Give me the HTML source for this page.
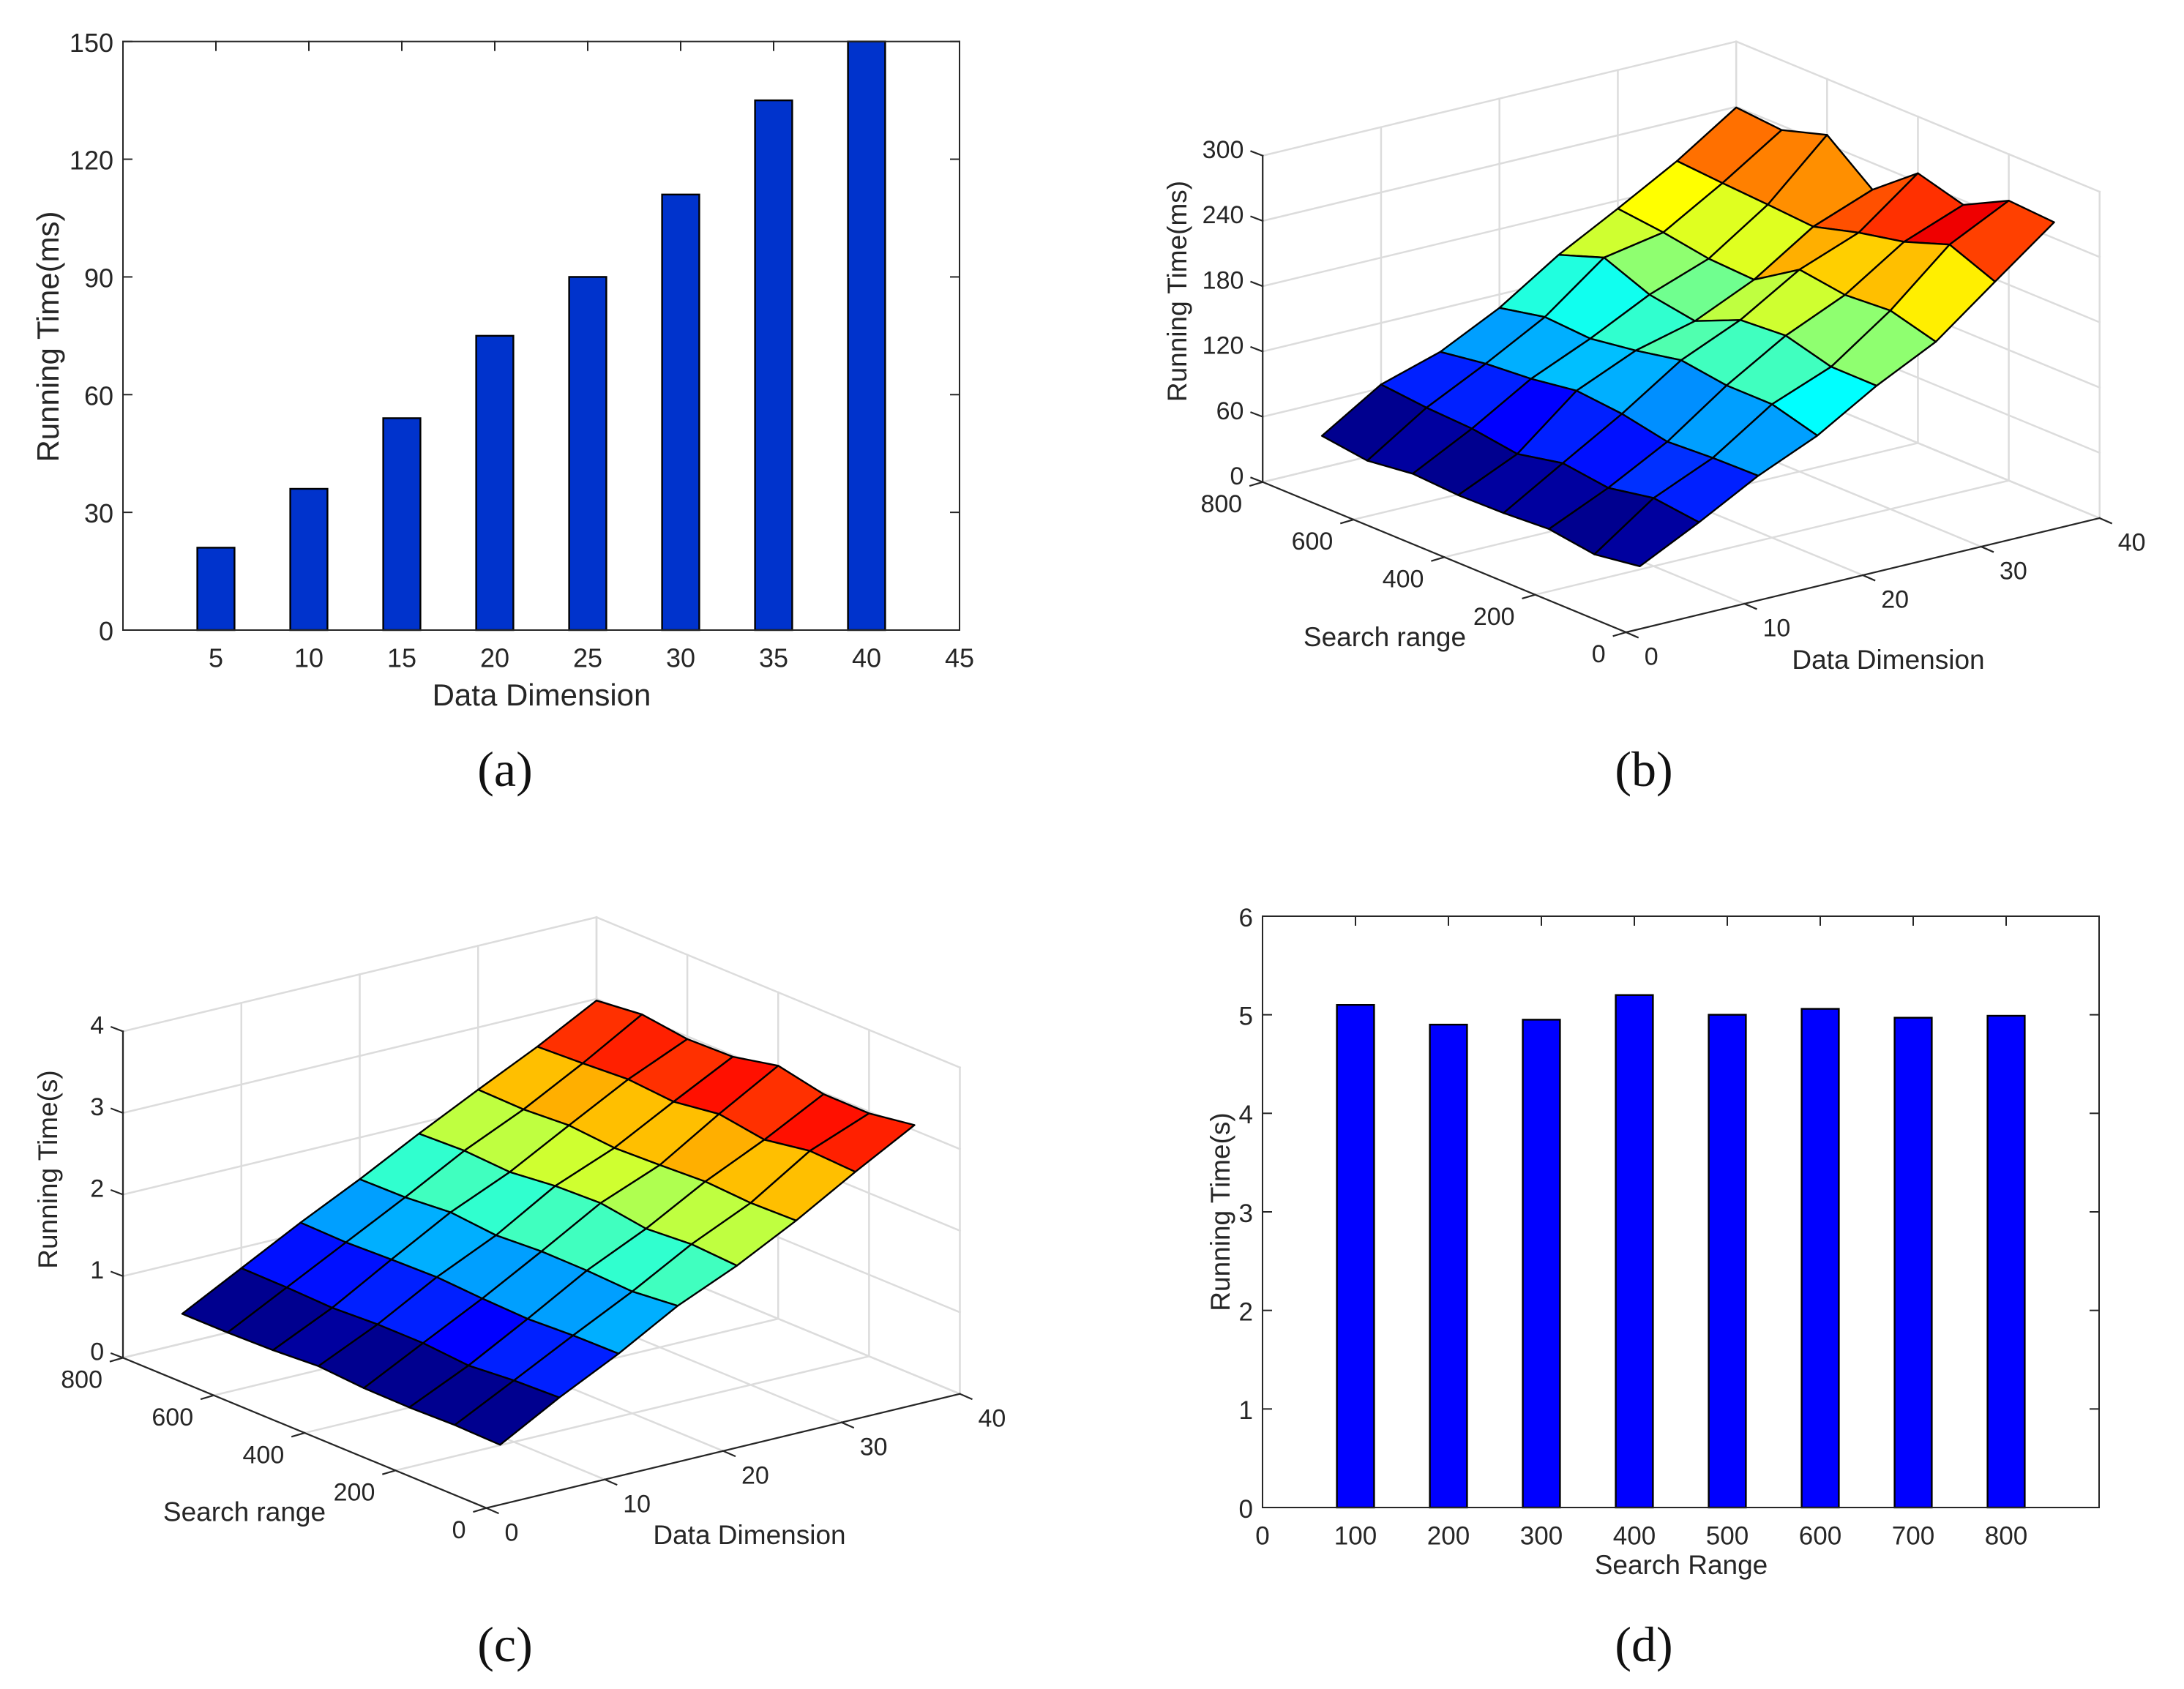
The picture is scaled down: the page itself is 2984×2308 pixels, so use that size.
<!DOCTYPE html>
<html lang="en">
<head>
<meta charset="utf-8">
<title>Running time charts</title>
<style>
html,body{margin:0;padding:0;background:#fff;}
svg{display:block;}
text{font-family:"Liberation Sans",sans-serif;fill:#262626;}
.caption{font-family:"Liberation Serif",serif;font-size:68px;fill:#111;text-anchor:middle;}
</style>
</head>
<body>
<svg xmlns="http://www.w3.org/2000/svg" width="2984" height="2308" viewBox="0 0 2984 2308">
  <rect x="0" y="0" width="2984" height="2308" fill="#fff"/>

  <g id="panel-a">
    <text x="740" y="964" font-size="42" text-anchor="middle">Data Dimension</text>
    <text x="80" y="460" font-size="42" text-anchor="middle" transform="rotate(-90 80 460)">Running Time(ms)</text>
  </g>
  <text class="caption" x="690" y="1074">(a)</text>

  <g id="panel-b">
    <text x="1892" y="883" font-size="37" text-anchor="middle">Search range</text>
    <text x="2580" y="914" font-size="37" text-anchor="middle">Data Dimension</text>
    <text x="1621" y="398" font-size="37" text-anchor="middle" transform="rotate(-90 1621 398)">Running Time(ms)</text>
  </g>
  <text class="caption" x="2246" y="1074">(b)</text>

  <g id="panel-c">
    <text x="334" y="2078.5" font-size="37" text-anchor="middle">Search range</text>
    <text x="1024" y="2110" font-size="37" text-anchor="middle">Data Dimension</text>
    <text x="78" y="1598" font-size="37" text-anchor="middle" transform="rotate(-90 78 1598)">Running Time(s)</text>
  </g>
  <text class="caption" x="690" y="2270">(c)</text>

  <g id="panel-d">
    <text x="2297" y="2151" font-size="37" text-anchor="middle">Search Range</text>
    <text x="1680" y="1656" font-size="37" text-anchor="middle" transform="rotate(-90 1680 1656)">Running Time(s)</text>
  </g>
  <text class="caption" x="2246" y="2270">(d)</text>
</svg>

<script>
// ---- Panel (a) data ----
const aCategories = [5, 10, 15, 20, 25, 30, 35, 40];
const aValues = [21, 36, 54, 75, 90, 111, 135, 150];
const aXTicks = [5, 10, 15, 20, 25, 30, 35, 40, 45];
const aYTicks = [0, 30, 60, 90, 120, 150];

// ---- Panel (d) data ----
const dCategories = [100, 200, 300, 400, 500, 600, 700, 800];
const dValues = [5.1, 4.9, 4.95, 5.2, 5.0, 5.06, 4.97, 4.99];
const dXTicks = [0, 100, 200, 300, 400, 500, 600, 700, 800];
const dYTicks = [0, 1, 2, 3, 4, 5, 6];

// ---- Surface grid (shared by panels b and c) ----
const dimensions = [5, 10, 15, 20, 25, 30, 35, 40];
const searchRanges = [100, 200, 300, 400, 500, 600, 700, 800];
const surfaceXTicks = [0, 10, 20, 30, 40];
const surfaceYTicks = [0, 200, 400, 600, 800];

// ---- Panel (b) data: one row per dimension, one column per search range ----
const bZTicks = [0, 60, 120, 180, 240, 300];
const bDim5 = [30.3, 24, 30, 27.5, 26.6, 29.1, 23.8, 29.3];
const bDim10 = [57.6, 62.6, 54.7, 60.2, 51.4, 57.4, 59.4, 63.4];
const bDim15 = [87.3, 86.4, 84, 92.4, 96.4, 90.1, 86.7, 80.3];
const bDim20 = [111.1, 122.6, 122.6, 128.6, 120.2, 113.9, 116.5, 107.6];
const bDim25 = [143.8, 143.9, 155.3, 152.4, 134.2, 141.2, 158, 143.3];
const bDim30 = [171.1, 182.5, 179.6, 185.6, 159.1, 161.1, 168, 172.6];
const bDim35 = [213.2, 230, 215.3, 206.5, 194.7, 197.7, 200.2, 203.3];
const bDim40 = [254.7, 257.3, 236.2, 248, 215.6, 248.7, 235.9, 239.4];
const bSurface = [bDim5, bDim10, bDim15, bDim20, bDim25, bDim30, bDim35, bDim40];

// ---- Panel (c) data ----
const cZTicks = [0, 1, 2, 3, 4];
const cDim5 = [0.370, 0.382, 0.368, 0.374, 0.413, 0.379, 0.365, 0.364];
const cDim10 = [0.774, 0.753, 0.706, 0.751, 0.751, 0.723, 0.742, 0.748];
const cDim15 = [1.137, 1.130, 1.103, 1.122, 1.154, 1.140, 1.120, 1.132];
const cDim20 = [1.548, 1.494, 1.520, 1.525, 1.492, 1.544, 1.497, 1.489];
const cDim25 = [1.866, 1.898, 1.858, 1.942, 1.922, 1.862, 1.894, 1.873];
const cDim30 = [2.243, 2.229, 2.261, 2.234, 2.213, 2.259, 2.225, 2.237];
const cDim35 = [2.666, 2.692, 2.599, 2.684, 2.604, 2.649, 2.615, 2.588];
const cDim40 = [3.064, 2.977, 2.983, 3.101, 2.981, 2.967, 3.039, 2.979];
const cSurface = [cDim5, cDim10, cDim15, cDim20, cDim25, cDim30, cDim35, cDim40];

const SVG_NS = 'http://www.w3.org/2000/svg';
const AXIS_COLOR = '#262626';
const GRID_COLOR = '#dcdcdc';

function make(tag, parent, attrs, before) {
  const node = document.createElementNS(SVG_NS, tag);
  for (const key in attrs) node.setAttribute(key, attrs[key]);
  if (before) parent.insertBefore(node, before);
  else parent.appendChild(node);
  return node;
}

function drawLine(parent, x1, y1, x2, y2, color, width, name) {
  const line = make('line', parent, { x1: x1, y1: y1, x2: x2, y2: y2, stroke: color, 'stroke-width': width, 'stroke-linecap': 'square' });
  
  
  return line;
}

function drawLabel(parent, x, y, content, size, anchor, name) {
  const label = make('text', parent, { x: x, y: y + size * 0.35, 'font-size': size, 'text-anchor': anchor });
  label.textContent = content;
  
  
  return label;
}

function drawBarChart(panel, box, xMax, yMax, categories, values, xTicks, yTicks, color, fontSize) {
  const first = panel.firstElementChild;
  const layer = make('g', panel, {}, first);
  
  
  const sx = function (v) { return box.left + (box.right - box.left) * v / xMax; };
  const sy = function (v) { return box.bottom - (box.bottom - box.top) * v / yMax; };
  const tick = 12;

  xTicks.forEach(function (t) {
    drawLine(layer, sx(t), box.bottom, sx(t), box.bottom - tick, AXIS_COLOR, 2, 'x-tick-bottom');
    drawLine(layer, sx(t), box.top, sx(t), box.top + tick, AXIS_COLOR, 2, 'x-tick-top');
    drawLabel(layer, sx(t), box.bottom + 38, String(t), fontSize, 'middle', 'x-tick-label');
  });
  yTicks.forEach(function (t) {
    drawLine(layer, box.left, sy(t), box.left + tick, sy(t), AXIS_COLOR, 2, 'y-tick-left');
    drawLine(layer, box.right, sy(t), box.right - tick, sy(t), AXIS_COLOR, 2, 'y-tick-right');
    drawLabel(layer, box.left - 13, sy(t) + 1.5, String(t), fontSize, 'end', 'y-tick-label');
  });

  const barWidth = (sx(categories[1]) - sx(categories[0])) * 0.4;
  categories.forEach(function (c, i) {
    const top = sy(values[i]);
    const bar = make('rect', layer, { x: sx(c) - barWidth / 2, y: top, width: barWidth, height: box.bottom - top, fill: color, stroke: '#000', 'stroke-width': 2.4 });
    
    
  });

  const frame = make('rect', layer, { x: box.left, y: box.top, width: box.right - box.left, height: box.bottom - box.top, fill: 'none', stroke: AXIS_COLOR, 'stroke-width': 2 });
  
  
}

function jetColor(value, low, high) {
  let index = Math.floor((value - low) / (high - low) * 64);
  index = Math.max(0, Math.min(63, index));
  const t = (index + 1) / 64;
  const channel = function (centre) {
    const c = Math.max(0, Math.min(1, 1.5 - Math.abs(4 * t - centre)));
    return Math.round(c * 255);
  };
  return 'rgb(' + channel(3) + ',' + channel(2) + ',' + channel(1) + ')';
}

function drawSurfaceChart(panel, origin, zHeight, zMax, surface, zTicks) {
  const first = panel.firstElementChild;
  const layer = make('g', panel, {}, first);
  
  
  const xMax = 40, yMax = 800;
  const project = function (x, y, z) {
    return {
      px: origin.x + 647 * x / xMax - 496.5 * y / yMax,
      py: origin.y - 156 * x / xMax - 205.3 * y / yMax - zHeight * z / zMax
    };
  };
  const seg = function (a, b, color, width, name) {
    drawLine(layer, a.px, a.py, b.px, b.py, color, width, name);
  };

  // back-wall and floor grid
  surfaceXTicks.forEach(function (t) {
    seg(project(t, 0, 0), project(t, yMax, 0), GRID_COLOR, 2.5, 'floor-gridline');
    seg(project(t, yMax, 0), project(t, yMax, zMax), GRID_COLOR, 2.5, 'back-wall-gridline');
  });
  surfaceYTicks.forEach(function (t) {
    seg(project(0, t, 0), project(xMax, t, 0), GRID_COLOR, 2.5, 'floor-gridline');
    seg(project(xMax, t, 0), project(xMax, t, zMax), GRID_COLOR, 2.5, 'side-wall-gridline');
  });
  zTicks.forEach(function (t) {
    seg(project(0, yMax, t), project(xMax, yMax, t), GRID_COLOR, 2.5, 'back-wall-gridline');
    seg(project(xMax, yMax, t), project(xMax, 0, t), GRID_COLOR, 2.5, 'side-wall-gridline');
  });

  // axis lines
  seg(project(0, 0, 0), project(xMax, 0, 0), AXIS_COLOR, 2.2, 'data-dimension-axis');
  seg(project(0, 0, 0), project(0, yMax, 0), AXIS_COLOR, 2.2, 'search-range-axis');
  seg(project(0, yMax, 0), project(0, yMax, zMax), AXIS_COLOR, 2.2, 'running-time-axis');

  // ticks and tick labels
  surfaceXTicks.forEach(function (t) {
    const p = project(t, 0, 0);
    seg(p, { px: p.px + 16, py: p.py + 7 }, AXIS_COLOR, 2.2, 'x-tick');
    drawLabel(layer, p.px + 25, p.py + 32.7, String(t), 34, 'start', 'x-tick-label');
  });
  surfaceYTicks.forEach(function (t) {
    const p = project(0, t, 0);
    seg(p, { px: p.px - 17, py: p.py + 5 }, AXIS_COLOR, 2.2, 'y-tick');
    drawLabel(layer, p.px - 28, p.py + 29.3, String(t), 34, 'end', 'y-tick-label');
  });
  zTicks.forEach(function (t) {
    const p = project(0, yMax, t);
    seg(p, { px: p.px - 15.7, py: p.py - 6 }, AXIS_COLOR, 2.2, 'z-tick');
    drawLabel(layer, p.px - 25.8, p.py - 8.6, String(t), 34, 'end', 'z-tick-label');
  });

  // surface faces, far to near; each face coloured from its lowest-index corner
  const all = surface.reduce(function (acc, row) { return acc.concat(row); }, []);
  const low = Math.min.apply(null, all);
  const high = Math.max.apply(null, all);
  for (let i = dimensions.length - 2; i >= 0; i--) {
    for (let j = searchRanges.length - 2; j >= 0; j--) {
      const corners = [
        project(dimensions[i], searchRanges[j], surface[i][j]),
        project(dimensions[i + 1], searchRanges[j], surface[i + 1][j]),
        project(dimensions[i + 1], searchRanges[j + 1], surface[i + 1][j + 1]),
        project(dimensions[i], searchRanges[j + 1], surface[i][j + 1])
      ];
      const pts = corners.map(function (c) { return c.px.toFixed(1) + ',' + c.py.toFixed(1); }).join(' ');
      const face = make('polygon', layer, { points: pts, fill: jetColor(surface[i][j], low, high), stroke: '#000', 'stroke-width': 2.4, 'stroke-linejoin': 'round' });
      
      
    }
  }
}

drawBarChart(document.getElementById('panel-a'),
  { left: 168, right: 1311, top: 56.7, bottom: 861 },
  45, 150, aCategories, aValues, aXTicks, aYTicks, '#0033cc', 36);

drawBarChart(document.getElementById('panel-d'),
  { left: 1725, right: 2868, top: 1252, bottom: 2060 },
  900, 6, dCategories, dValues, dXTicks, dYTicks, '#0000ff', 35);

drawSurfaceChart(document.getElementById('panel-b'), { x: 2221.7, y: 864 }, 446, 300, bSurface, bZTicks);
drawSurfaceChart(document.getElementById('panel-c'), { x: 664.5, y: 2060.7 }, 446, 4, cSurface, cZTicks);
</script>
</body>
</html>
